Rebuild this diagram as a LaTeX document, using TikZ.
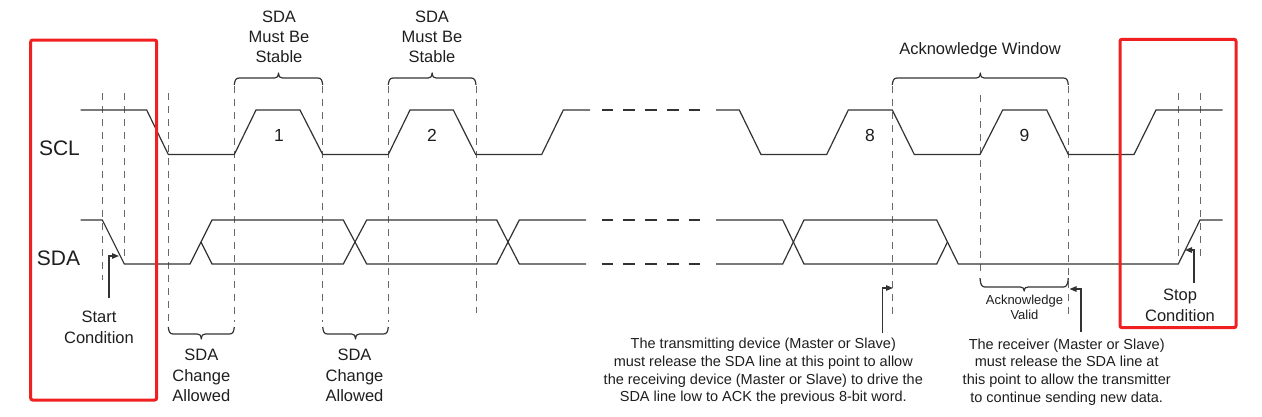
\documentclass[tikz,border=0pt]{standalone}
\usepackage{fontspec}
\setmainfont{Liberation Sans}
\usetikzlibrary{arrows.meta}
\definecolor{sig}{RGB}{50,50,50}
\definecolor{guide}{RGB}{105,105,105}
\definecolor{redbox}{RGB}{240,32,32}
\definecolor{txt}{RGB}{30,30,30}
\tikzset{
  sigline/.style={draw=sig, line width=1.2pt, line join=miter},
  gapline/.style={draw=sig, line width=1.2pt, dash pattern=on 11.7pt off 10pt},
  guideline/.style={draw=guide, line width=0.9pt, dash pattern=on 7pt off 6pt},
  bracestyle/.style={draw=sig, line width=1.2pt, line join=round},
  hilite/.style={draw=redbox, line width=3pt, rounded corners=2pt},
  ptr/.style={draw=sig, line width=1.2pt, -{Triangle[length=7pt,width=5.5pt]}},
  lbl/.style={text=txt, align=center, inner sep=0pt, font=\fontsize{16.5}{20.3}\selectfont},
  siglbl/.style={text=txt, inner sep=0pt, font=\fontsize{21}{24}\selectfont},
  numlbl/.style={text=txt, inner sep=0pt, font=\fontsize{17.5}{20}\selectfont},
  smalllbl/.style={text=txt, align=center, inner sep=0pt, font=\fontsize{13}{15}\selectfont},
  notelbl/.style={text=txt, align=center, inner sep=0pt, font=\fontsize{14.5}{17.8}\selectfont},
}
% brace: x1, x2, y at ends, y of bar, y of tip
\newcommand{\tmbrace}[5]{%
  \draw[bracestyle] (#1,#3)
    .. controls ({#1+0.5},{#4+0.3*(#3-#4)}) and ({#1+1.5},#4) .. ({#1+5},#4)
    -- ({(#1+#2)/2-4},#4)
    .. controls ({(#1+#2)/2-1.5},#4) and ({(#1+#2)/2-0.5},{#4+0.2*(#5-#4)}) .. ({(#1+#2)/2},#5)
    .. controls ({(#1+#2)/2+0.5},{#4+0.2*(#5-#4)}) and ({(#1+#2)/2+1.5},#4) .. ({(#1+#2)/2+4},#4)
    -- ({#2-5},#4)
    .. controls ({#2-1.5},#4) and ({#2-0.5},{#4+0.3*(#3-#4)}) .. (#2,#3);
}
\begin{document}
\begin{tikzpicture}[x=1pt,y=-1pt]
\useasboundingbox (0,0) rectangle (1262,416);

% guide lines
\foreach \gx/\ga/\gb in {102.5/93/280, 124.5/93/262, 168.3/93/322, 234.3/86/322,
  322.7/86/322, 388.3/86/322, 476/86/313, 892.3/86/315, 980/95/277,
  1068.3/86/315, 1178.3/93/256, 1200/93/256}
  \draw[guideline] (\gx,\ga) -- (\gx,\gb);

% SCL
\draw[sigline] (80.7,110) -- (146.7,110) -- (168.3,154.5) -- (234.3,154.5) -- (256,110)
  -- (300,110) -- (322.7,154.5) -- (388.3,154.5) -- (410,110) -- (453.3,110)
  -- (475.7,154.5) -- (541.7,154.5) -- (563.3,110) -- (590,110);
\draw[gapline] (601.7,110) -- (701,110);
\draw[sigline] (716,110) -- (739.3,110) -- (761,154.5) -- (826.7,154.5) -- (848.3,110)
  -- (892.3,110) -- (914.3,154.5) -- (980,154.5) -- (1002.7,110) -- (1046.7,110)
  -- (1068.3,154.5) -- (1134,154.5) -- (1156,110) -- (1222.7,110);

% SDA
\draw[sigline] (80.7,220) -- (102.3,220) -- (124.3,264) -- (190,264) -- (212,220)
  -- (343.3,220) -- (366.7,264) -- (496.7,264) -- (519.3,220) -- (586,220);
\draw[sigline] (201,242) -- (212,264) -- (343.3,264) -- (366.7,220) -- (496.7,220)
  -- (519.3,264) -- (586,264);
\draw[gapline] (601.7,220) -- (701,220);
\draw[gapline] (601.7,264) -- (701,264);
\draw[sigline] (716,220) -- (782.7,220) -- (804,264) -- (936.7,264) -- (947.5,242);
\draw[sigline] (716,264) -- (782.7,264) -- (804,220) -- (936.7,220) -- (958.3,264)
  -- (1178.3,264) -- (1200,220) -- (1222.7,220);

% braces
\tmbrace{234.3}{322.7}{85}{78}{73}
\tmbrace{388.3}{476}{85}{78}{73}
\tmbrace{892.3}{1068.3}{85}{78}{73}
\tmbrace{168.3}{234.3}{327}{334}{339}
\tmbrace{322.7}{388.3}{327}{334}{339}
\tmbrace{980}{1068.3}{278}{287}{291}

% labels
\node[siglbl, anchor=base] (scl) at (59.5,155) {SCL};
\node[siglbl, anchor=base] (sda) at (58.5,265) {SDA};
\node[numlbl, anchor=base] (n1) at (279,141.7) {1};
\node[numlbl, anchor=base] (n2) at (432,141.7) {2};
\node[numlbl, anchor=base] (n8) at (870,141.7) {8};
\node[numlbl, anchor=base] (n9) at (1024.5,141.7) {9};
\node[lbl] (stab1) at (279,36.7) {SDA\\Must Be\\Stable};
\node[lbl] (stab2) at (432,36.7) {SDA\\Must Be\\Stable};
\node[lbl, anchor=base] (ackw) at (980,54.2) {Acknowledge Window};
\node[lbl] (chg1) at (201.3,375.5) {SDA\\Change\\Allowed};
\node[lbl] (chg2) at (354.5,375.5) {SDA\\Change\\Allowed};
\node[lbl] (start) at (99,327.3) {Start\\Condition};
\node[lbl] (stop) at (1180,305.2) {Stop\\Condition};
\node[smalllbl] (ackv) at (1024.5,307.4) {Acknowledge\\Valid};
\node[notelbl] (tx) at (763.3,371.4) {The transmitting device (Master or Slave)\\must release the SDA line at this point to allow\\the receiving device (Master or Slave) to drive the\\SDA line low to ACK the previous 8-bit word.};
\node[notelbl] (rx) at (1066.7,372) {The receiver (Master or Slave)\\must release the SDA line at\\this point to allow the transmitter\\to continue sending new data.};

% pointers
\coordinate (startA) at (109,298.3);
\coordinate (startB) at (119,256);
\draw[ptr] (startA) |- (startB);
\coordinate (txA) at (882.7,333.3);
\coordinate (txB) at (893,288);
\draw[ptr] (txA) |- (txB);
\coordinate (rxA) at (1081,331.7);
\coordinate (rxB) at (1069.5,289);
\draw[ptr] (rxA) |- (rxB);
\coordinate (stopA) at (1194,283.3);
\coordinate (stopB) at (1185,250);
\draw[ptr] (stopA) |- (stopB);

% highlight boxes
\draw[hilite] (30.7,40) rectangle (156.7,400);
\draw[hilite] (1120,39.3) rectangle (1236,327.7);
\end{tikzpicture}
\end{document}
